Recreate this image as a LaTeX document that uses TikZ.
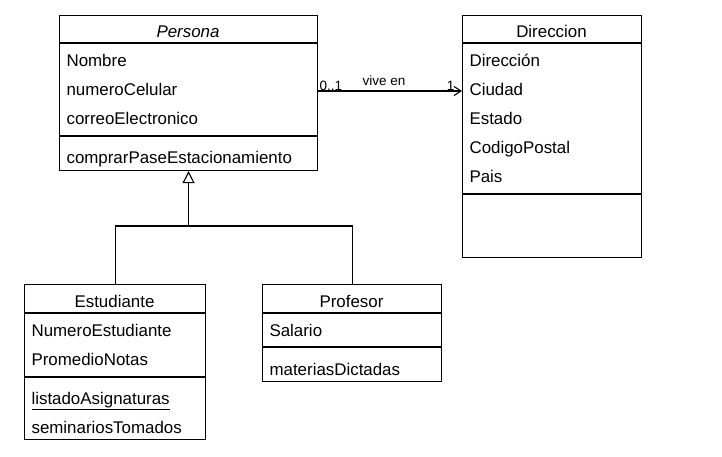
\documentclass[tikz,border=0pt]{standalone}
\usepackage{fontspec}
\setmainfont{Liberation Sans}
\usetikzlibrary{arrows.meta}
\begin{document}
\begin{tikzpicture}[x=1pt,y=-1pt,
  line width=1.1pt,
  classbox/.style={draw, inner sep=0pt, anchor=north west},
  attr/.style={anchor=base west, inner sep=0pt, font=\fontsize{16.9}{20}\selectfont},
  ctitle/.style={anchor=base, inner sep=0pt, font=\fontsize{16.9}{20}\selectfont},
  lbl/.style={inner sep=0pt, font=\fontsize{13.5}{16}\selectfont},
  sep/.style={draw}
]
\useasboundingbox (0,0) rectangle (722,456);

% Persona
\node[classbox, minimum width=258pt, minimum height=155pt] (persona) at (59,15) {};
\node[ctitle] (ptitle) at (188,37) {\itshape Persona};
\draw[sep] (59,43) -- (317,43);
\node[attr] (pa1) at (66,66) {Nombre};
\node[attr] (pa2) at (66,95) {numeroCelular};
\node[attr] (pa3) at (66,124) {correoElectronico};
\draw[sep] (59,136) -- (317,136);
\node[attr] (pm1) at (66,163) {comprarPaseEstacionamiento};

% Direccion
\node[classbox, minimum width=179pt, minimum height=242pt] (direccion) at (462,15) {};
\node[ctitle] (dtitle) at (551.5,37) {Direccion};
\draw[sep] (462,43) -- (641,43);
\node[attr] (da1) at (469,66) {Dirección};
\node[attr] (da2) at (469,95) {Ciudad};
\node[attr] (da3) at (469,124) {Estado};
\node[attr] (da4) at (469,153) {CodigoPostal};
\node[attr] (da5) at (469,182) {Pais};
\draw[sep] (462,194) -- (641,194);

% Estudiante
\node[classbox, minimum width=181pt, minimum height=155pt] (estudiante) at (24,284) {};
\node[ctitle] (etitle) at (114.5,307) {Estudiante};
\draw[sep] (24,313) -- (205,313);
\node[attr] (ea1) at (31,336) {NumeroEstudiante};
\node[attr] (ea2) at (31,365) {PromedioNotas};
\draw[sep] (24,377) -- (205,377);
\node[attr] (em1) at (31,404) {\underline{listadoAsignaturas}};
\node[attr] (em2) at (31,433) {seminariosTomados};

% Profesor
\node[classbox, minimum width=179pt, minimum height=97pt] (profesor) at (262,284) {};
\node[ctitle] (prtitle) at (351.5,307) {Profesor};
\draw[sep] (262,313) -- (441,313);
\node[attr] (pra1) at (269,336) {Salario};
\draw[sep] (262,347) -- (441,347);
\node[attr] (prm1) at (269,375) {materiasDictadas};

% Association
\coordinate (assocy) at (0,91);
\draw[-{Straight Barb[length=7pt,width=9pt]}] (persona.east |- assocy) -- (direccion.west |- assocy);
\node[lbl, anchor=base west] (m1) at (319,90.5) {0..1};
\node[lbl, anchor=base] (assoc) at (384,85) {vive en};
\node[lbl, anchor=base east] (m2) at (455,90.5) {1};

% Generalization
\coordinate (joiny) at (0,226);
\draw (estudiante.north) -- (estudiante.north |- joiny) -| (profesor.north);
\draw[-{Triangle[open,length=12pt,width=12pt]}] (persona.south |- joiny) -- (persona.south);
\end{tikzpicture}
\end{document}
